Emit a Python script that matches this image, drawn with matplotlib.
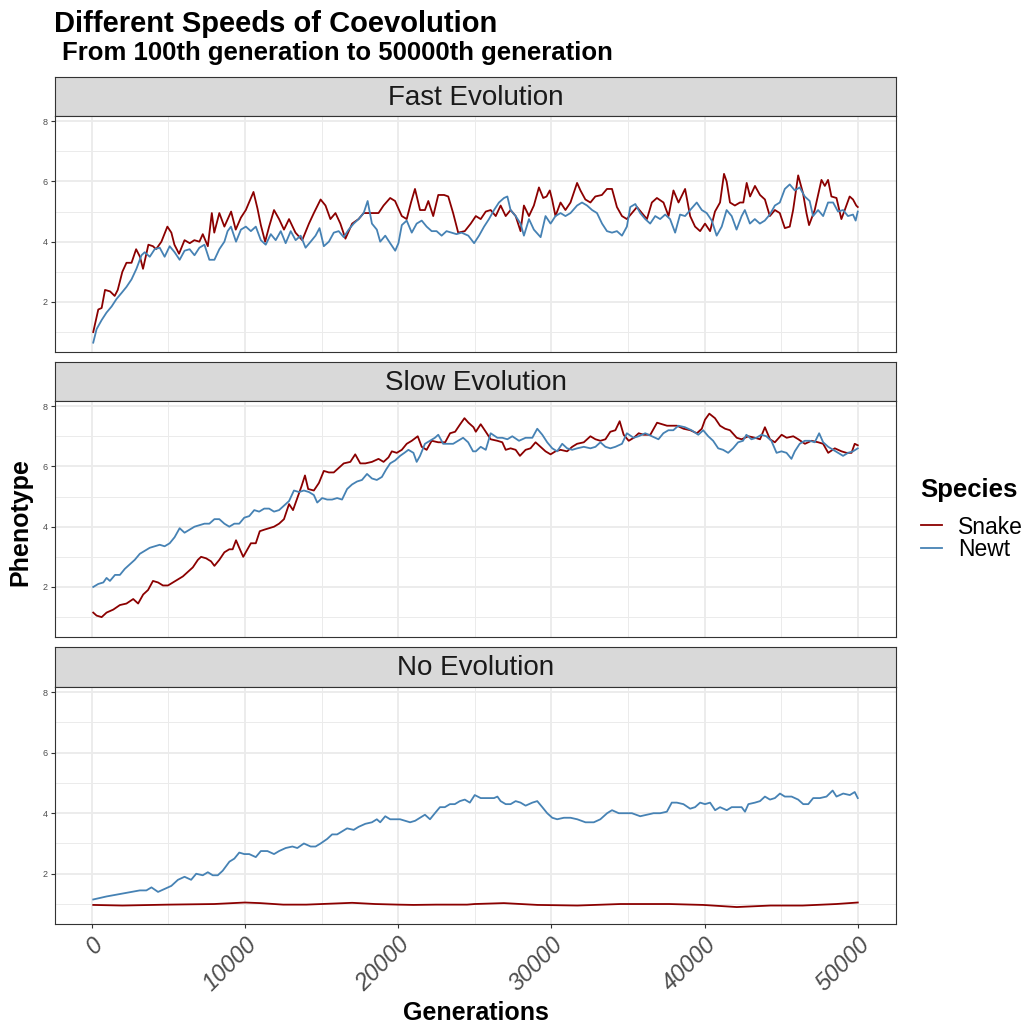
import matplotlib.pyplot as plt
from matplotlib.lines import Line2D

# phenotype traces of the two species, read every few hundred generations
fast_snake_gen = [100, 430, 650, 870, 1200, 1500, 1700, 2000, 2270, 2600, 2900, 3150, 3350, 3700, 4000, 4200,
                  4550, 4940, 5200, 5400, 5700, 6060, 6400, 6700, 7030, 7250, 7580, 7840, 8000, 8330, 8660,
                  9100, 9400, 9740, 10060, 10350, 10560, 10820, 11040, 11320, 11580, 11900, 12230, 12550,
                  12880, 13300, 13740, 14180, 14500, 14940, 15260, 15580, 15910, 16230, 16560, 17000, 17420,
                  17750, 18070, 18400, 18720, 19050, 19480, 19800, 20240, 20560, 20840, 21100, 21430, 21750,
                  21970, 22290, 22620, 23000, 23270, 23590, 23920, 24350, 24740, 25070, 25390, 25720, 26040,
                  26370, 26690, 27020, 27340, 27670, 27990, 28210, 28540, 28860, 29190, 29470, 29690, 29900,
                  30050, 30270, 30600, 30920, 31250, 31680, 31900, 32220, 32550, 32870, 33300, 33630, 33960,
                  34280, 34610, 34930, 35260, 35590, 35910, 36240, 36560, 36890, 37320, 37650, 37970, 38300,
                  38730, 39060, 39380, 39710, 40030, 40360, 40680, 41010, 41270, 41440, 41660, 41980, 42310,
                  42530, 42750, 42970, 43290, 43620, 43940, 44260, 44590, 44910, 45240, 45560, 45780, 46110,
                  46430, 46650, 46820, 47190, 47630, 47850, 48060, 48280, 48610, 48930, 49150, 49470, 49690,
                  49900, 50000]
fast_snake = [1.0, 1.75, 1.8, 2.4, 2.35, 2.2, 2.4, 3.0, 3.3, 3.3, 3.75, 3.5, 3.1, 3.9, 3.85, 3.75,
              4.0, 4.5, 4.3, 3.9, 3.6, 4.05, 3.95, 4.05, 4.0, 4.25, 3.85, 4.95, 4.3, 4.95, 4.5,
              5.0, 4.4, 4.8, 5.05, 5.4, 5.65, 5.1, 4.55, 4.0, 4.5, 5.05, 4.75, 4.4,
              4.75, 4.3, 4.05, 4.6, 4.95, 5.4, 5.2, 4.75, 4.95, 4.6, 4.1, 4.6, 4.75,
              4.95, 4.95, 4.95, 4.95, 5.2, 5.45, 5.35, 4.85, 4.75, 5.3, 5.75, 5.05, 5.05,
              5.35, 4.85, 5.55, 5.55, 5.5, 4.95, 4.3, 4.35, 4.6, 4.85, 4.75, 5.0, 5.05,
              4.85, 5.2, 4.85, 5.05, 4.85, 4.35, 5.2, 4.85, 5.2, 5.8, 5.45, 5.5, 5.7,
              5.4, 4.85, 5.3, 5.05, 5.3, 5.95, 5.7, 5.4, 5.3, 5.5, 5.55, 5.75, 5.75,
              5.15, 4.85, 4.75, 4.95, 5.15, 4.95, 4.75, 5.3, 5.45, 5.3, 4.85, 5.7, 5.3,
              5.75, 4.85, 4.5, 4.35, 4.6, 4.35, 5.0, 5.3, 6.25, 6.0, 5.3, 5.2, 5.3,
              5.3, 5.95, 5.5, 5.85, 5.55, 5.4, 4.85, 5.05, 4.95, 4.45, 4.5, 5.05, 6.2,
              5.6, 4.95, 4.55, 5.05, 6.05, 5.85, 6.05, 5.5, 5.45, 4.75, 5.05, 5.5, 5.4,
              5.2, 5.15]

fast_newt_gen = [100, 320, 650, 970, 1300, 1620, 1950, 2270, 2600, 2920, 3250, 3460, 3790, 4110, 4440, 4760,
                 5090, 5410, 5740, 6060, 6390, 6710, 7030, 7360, 7680, 8010, 8330, 8660, 8870, 9090, 9420,
                 9740, 10060, 10390, 10710, 11040, 11360, 11690, 12010, 12340, 12660, 12990, 13310, 13640,
                 13960, 14290, 14610, 14870, 15150, 15480, 15800, 16120, 16450, 16770, 17100, 17420, 17750,
                 18010, 18290, 18610, 18830, 19160, 19480, 19810, 20020, 20240, 20560, 20890, 21210, 21540,
                 21860, 22190, 22510, 22840, 23160, 23490, 23810, 24140, 24580, 24960, 25280, 25610, 25930,
                 26260, 26580, 26910, 27130, 27340, 27670, 27990, 28210, 28540, 28860, 29300, 29620, 29950,
                 30270, 30600, 30920, 31250, 31680, 32000, 32330, 32660, 32980, 33310, 33630, 33960, 34280,
                 34610, 34930, 35150, 35480, 35800, 36130, 36450, 36780, 37100, 37430, 37750, 38080, 38400,
                 38730, 39060, 39490, 39820, 40140, 40470, 40790, 41120, 41440, 41770, 42090, 42420, 42630,
                 42960, 43280, 43610, 43930, 44260, 44590, 44910, 45240, 45560, 45890, 46210, 46540, 46860,
                 47080, 47410, 47740, 48060, 48390, 48710, 49040, 49360, 49690, 49860, 50000]
fast_newt = [0.65, 1.1, 1.4, 1.65, 1.85, 2.1, 2.3, 2.5, 2.75, 3.1, 3.55, 3.65, 3.5, 3.75, 3.8, 3.5,
             3.85, 3.65, 3.4, 3.7, 3.75, 3.55, 3.8, 3.9, 3.4, 3.4, 3.75, 4.0, 4.35, 4.5, 4.0,
             4.4, 4.5, 4.35, 4.5, 4.05, 3.9, 4.25, 4.05, 4.35, 3.95, 4.35, 4.05, 4.2,
             3.8, 4.0, 4.2, 4.45, 3.85, 4.0, 4.3, 4.35, 4.15, 4.4, 4.6, 4.75, 4.95,
             5.35, 4.6, 4.4, 4.0, 4.2, 3.95, 3.7, 3.95, 4.55, 4.7, 4.3, 4.6, 4.7,
             4.5, 4.35, 4.35, 4.2, 4.35, 4.3, 4.25, 4.3, 4.2, 3.95, 4.2, 4.5, 4.75,
             5.05, 5.3, 5.45, 5.5, 5.05, 4.85, 4.6, 4.2, 4.75, 4.4, 4.15, 4.85, 4.6,
             4.85, 4.95, 4.85, 4.95, 5.2, 5.3, 5.2, 5.05, 4.95, 4.6, 4.35, 4.3, 4.35,
             4.2, 4.5, 5.15, 5.25, 4.95, 4.75, 4.6, 4.85, 4.75, 4.9, 4.75, 4.3, 4.9,
             4.85, 5.05, 5.3, 5.05, 4.95, 4.7, 4.2, 4.5, 5.05, 4.85, 4.4, 4.85, 5.05,
             4.6, 4.75, 4.6, 4.7, 4.9, 5.2, 5.3, 5.75, 5.9, 5.7, 5.8, 5.5, 5.35,
             4.85, 5.05, 4.85, 5.3, 5.3, 5.0, 5.05, 4.85, 4.9, 4.7, 5.0]

slow_snake_gen = [100, 320, 650, 970, 1410, 1840, 2270, 2710, 3030, 3360, 3680, 4000, 4330, 4650, 4980, 5300,
                  5630, 5950, 6280, 6600, 6930, 7140, 7470, 7790, 8010, 8330, 8660, 8980, 9200, 9420, 9630,
                  9890, 10170, 10390, 10710, 10970, 11260, 11580, 11900, 12230, 12550, 12880, 13140, 13420,
                  13700, 13920, 14130, 14500, 14830, 15150, 15480, 15800, 16130, 16450, 16880, 17200, 17530,
                  17860, 18290, 18720, 19050, 19370, 19590, 19910, 20240, 20560, 20890, 21280, 21540, 21860,
                  22190, 22620, 23070, 23390, 23720, 24050, 24330, 24590, 24920, 25070, 25390, 25720, 26040,
                  26480, 26800, 27020, 27340, 27670, 27950, 28320, 28640, 28970, 29300, 29620, 29950, 30270,
                  30600, 31030, 31360, 31680, 32120, 32550, 32880, 33200, 33530, 33850, 34180, 34460, 34720,
                  35050, 35380, 35700, 36030, 36460, 36900, 37220, 37550, 37870, 38200, 38630, 39070, 39500,
                  39820, 40030, 40310, 40680, 41010, 41340, 41660, 42100, 42420, 42860, 43290, 43620, 43940,
                  44270, 44590, 45030, 45360, 45790, 46120, 46550, 46980, 47420, 47740, 48070, 48500, 48940,
                  49260, 49590, 49800, 50000]
slow_snake = [1.15, 1.05, 1.0, 1.15, 1.25, 1.4, 1.45, 1.6, 1.45, 1.75, 1.9, 2.2, 2.15, 2.05, 2.05, 2.15,
              2.25, 2.35, 2.5, 2.65, 2.9, 3.0, 2.95, 2.85, 2.7, 2.9, 3.15, 3.25, 3.25, 3.55, 3.3,
              3.0, 3.25, 3.45, 3.45, 3.85, 3.9, 3.95, 4.0, 4.1, 4.25, 4.75, 4.55, 4.95,
              5.35, 5.7, 5.25, 5.2, 5.45, 5.85, 5.8, 5.8, 5.95, 6.1, 6.15, 6.4, 6.1,
              6.1, 6.15, 6.25, 6.15, 6.3, 6.5, 6.45, 6.55, 6.75, 6.85, 7.0, 6.65, 6.55,
              6.85, 6.8, 6.8, 7.1, 7.15, 7.4, 7.6, 7.45, 7.3, 7.15, 7.4, 7.15, 6.9,
              6.85, 6.8, 6.55, 6.6, 6.55, 6.35, 6.55, 6.6, 6.8, 6.65, 6.5, 6.4, 6.5,
              6.55, 6.5, 6.65, 6.75, 6.8, 7.0, 6.9, 6.85, 6.9, 7.15, 7.2, 7.5, 7.05,
              6.85, 6.95, 7.1, 7.05, 7.05, 7.45, 7.4, 7.35, 7.35, 7.35, 7.25, 7.2, 7.1,
              7.25, 7.55, 7.75, 7.6, 7.35, 7.25, 7.2, 6.95, 6.9, 7.0, 6.95, 6.9, 7.3,
              6.9, 6.8, 7.05, 6.95, 7.0, 6.9, 6.75, 6.85, 6.8, 6.75, 6.45, 6.6, 6.5,
              6.45, 6.45, 6.75, 6.7]

slow_newt_gen = [100, 430, 760, 970, 1190, 1520, 1840, 2160, 2490, 2810, 3140, 3460, 3790, 4110, 4440, 4760,
                 5090, 5410, 5740, 6060, 6390, 6710, 7030, 7360, 7680, 8010, 8330, 8660, 8980, 9310, 9630,
                 9960, 10280, 10610, 10930, 11260, 11580, 11900, 12230, 12550, 12880, 13200, 13530, 13850,
                 14180, 14500, 14720, 15040, 15370, 15690, 16020, 16340, 16670, 16990, 17320, 17640, 17970,
                 18290, 18610, 18940, 19220, 19480, 19810, 20130, 20410, 20670, 21000, 21210, 21430, 21750,
                 22080, 22400, 22620, 22940, 23270, 23590, 23920, 24240, 24570, 24890, 25070, 25390, 25720,
                 26040, 26480, 26800, 27130, 27450, 27890, 28320, 28760, 29080, 29410, 29730, 30060, 30380,
                 30710, 31030, 31360, 31690, 32120, 32550, 32880, 33200, 33530, 33850, 34180, 34610, 34930,
                 35370, 35690, 36130, 36560, 36990, 37310, 37640, 37960, 38290, 38720, 39150, 39590, 39910,
                 40240, 40560, 40890, 41210, 41540, 41860, 42190, 42510, 42730, 43060, 43380, 43710, 44030,
                 44360, 44700, 45020, 45350, 45670, 45890, 46210, 46540, 46870, 47190, 47480, 47740, 48070,
                 48390, 48720, 49040, 49370, 49690, 50000]
slow_newt = [2.0, 2.1, 2.15, 2.3, 2.2, 2.4, 2.4, 2.6, 2.75, 2.9, 3.1, 3.2, 3.3, 3.35, 3.4, 3.35,
             3.45, 3.65, 3.95, 3.8, 3.9, 4.0, 4.05, 4.1, 4.1, 4.25, 4.25, 4.1, 4.0, 4.1, 4.1,
             4.3, 4.35, 4.55, 4.5, 4.6, 4.6, 4.5, 4.55, 4.7, 4.85, 5.2, 5.15, 5.2,
             5.15, 5.05, 4.8, 4.95, 4.9, 4.9, 4.95, 4.9, 5.25, 5.4, 5.5, 5.55, 5.75,
             5.6, 5.55, 5.65, 5.9, 6.1, 6.2, 6.35, 6.45, 6.55, 6.45, 6.15, 6.35, 6.75,
             6.85, 6.95, 7.05, 6.75, 6.75, 6.75, 6.85, 6.95, 6.8, 6.5, 6.5, 6.65, 6.55,
             7.1, 6.95, 6.95, 6.9, 7.0, 6.85, 6.95, 6.95, 7.25, 7.05, 6.8, 6.6, 6.5,
             6.75, 6.6, 6.55, 6.6, 6.65, 6.6, 6.65, 6.8, 6.65, 6.6, 6.65, 6.75, 7.1,
             6.95, 7.0, 7.1, 7.0, 6.9, 7.1, 7.2, 7.2, 7.35, 7.3, 7.2, 7.05, 7.2,
             7.0, 6.85, 6.6, 6.55, 6.45, 6.6, 6.8, 6.85, 7.05, 6.9, 6.95, 7.05, 7.0,
             6.85, 6.45, 6.5, 6.45, 6.25, 6.5, 6.75, 6.85, 6.85, 6.8, 7.1, 6.8, 6.65,
             6.55, 6.45, 6.35, 6.45, 6.5, 6.6]

none_snake_gen = [100, 2000, 5000, 8000, 10000, 11000, 12500, 14000, 16000, 17000, 18500, 20000, 21000,
                  22500, 24500, 25000, 26900, 29100, 31700, 34500, 37700, 39900, 42100, 44300, 46400,
                  48600, 50000]
none_snake = [0.97, 0.95, 0.98, 1.0, 1.05, 1.03, 0.98, 0.98, 1.02, 1.04, 1.0, 0.98, 0.97,
              0.98, 0.98, 1.0, 1.03, 0.97, 0.95, 1.0, 1.0, 0.97, 0.9, 0.95, 0.95,
              1.0, 1.05]

none_newt_gen = [100, 540, 970, 1520, 2060, 2600, 3140, 3570, 3900, 4330, 4760, 5200, 5630, 6060, 6280, 6490,
                 6820, 7250, 7580, 7900, 8230, 8550, 8770, 8990, 9310, 9630, 9960, 10280, 10710, 11040,
                 11470, 11900, 12230, 12660, 13100, 13420, 13850, 14290, 14610, 14940, 15370, 15690, 16020,
                 16340, 16670, 17100, 17420, 17860, 18290, 18610, 18830, 19160, 19480, 19810, 20130, 20460,
                 20780, 21110, 21430, 21750, 22080, 22400, 22730, 23050, 23380, 23700, 24030, 24350, 24680,
                 25000, 25390, 25820, 26260, 26480, 26690, 27020, 27340, 27670, 27990, 28320, 28760, 29080,
                 29410, 29730, 30060, 30380, 30820, 31250, 31690, 32230, 32770, 33200, 33640, 33960, 34400,
                 34830, 35260, 35800, 36240, 36670, 37100, 37540, 37860, 38190, 38620, 39060, 39380, 39710,
                 40030, 40360, 40690, 41010, 41450, 41770, 42100, 42420, 42640, 42860, 43290, 43620, 43940,
                 44270, 44590, 44920, 45240, 45680, 46110, 46440, 46770, 47090, 47530, 47960, 48360, 48610,
                 49050, 49480, 49800, 50000]
none_newt = [1.15, 1.2, 1.25, 1.3, 1.35, 1.4, 1.45, 1.45, 1.55, 1.4, 1.5, 1.6, 1.8, 1.9, 1.85, 1.8,
             2.0, 1.95, 2.05, 1.95, 1.95, 2.1, 2.25, 2.4, 2.5, 2.7, 2.65, 2.65, 2.55, 2.75,
             2.75, 2.65, 2.75, 2.85, 2.9, 2.85, 3.0, 2.9, 2.9, 3.0, 3.15, 3.3, 3.3,
             3.4, 3.5, 3.45, 3.55, 3.65, 3.7, 3.8, 3.7, 3.9, 3.8, 3.8, 3.8, 3.75,
             3.7, 3.75, 3.85, 3.95, 3.8, 4.0, 4.2, 4.2, 4.3, 4.3, 4.4, 4.45, 4.35,
             4.6, 4.5, 4.5, 4.5, 4.55, 4.4, 4.3, 4.3, 4.4, 4.35, 4.25, 4.35, 4.4,
             4.2, 4.0, 3.85, 3.8, 3.85, 3.85, 3.8, 3.7, 3.7, 3.8, 4.0, 4.1, 4.0,
             4.0, 4.0, 3.9, 3.95, 4.0, 4.0, 4.05, 4.35, 4.35, 4.3, 4.15, 4.2, 4.35,
             4.3, 4.35, 4.1, 4.2, 4.1, 4.2, 4.2, 4.2, 4.05, 4.3, 4.35, 4.4, 4.55,
             4.45, 4.5, 4.65, 4.55, 4.55, 4.45, 4.3, 4.3, 4.5, 4.5, 4.55, 4.75, 4.55,
             4.65, 4.6, 4.7, 4.5]

facets = ["Fast Evolution", "Slow Evolution", "No Evolution"]
snake_data = [(fast_snake_gen, fast_snake), (slow_snake_gen, slow_snake), (none_snake_gen, none_snake)]
newt_data = [(fast_newt_gen, fast_newt), (slow_newt_gen, slow_newt), (none_newt_gen, none_newt)]
species = ["Snake", "Newt"]
colors = ["#8B0000", "#4682B4"]
x_ticks = [0, 10000, 20000, 30000, 40000, 50000]
y_ticks = [2, 4, 6, 8]

plt.rcParams['font.family'] = ['Liberation Sans', 'DejaVu Sans']

W, H = 1026, 1028
fig = plt.figure(figsize=(W / 100, H / 100), dpi=100)


def box(l, t, r, b):
    # pixel box -> figure fraction
    return [l / W, 1 - b / H, (r - l) / W, (b - t) / H]


rows = [(77, 116, 352), (362, 401, 637), (647, 687, 924)]
left, right = 55, 896
border = '#333333'

for i, name in enumerate(facets):
    strip_top, top, bottom = rows[i]

    # facet strip
    sax = fig.add_axes(box(left, strip_top, right, top))
    sax.set_facecolor('#D9D9D9')
    sax.set_xticks([])
    sax.set_yticks([])
    for sp in sax.spines.values():
        sp.set_color(border)
        sp.set_linewidth(0.8)
    sax.text(0.5, 0.47, name, ha='center', va='center', fontsize=20, color='#1A1A1A',
             transform=sax.transAxes)

    ax = fig.add_axes(box(left, top, right, bottom))
    ax.set_xlim(-2395, 52495)
    ax.set_ylim(0.34, 8.17)
    ax.set_xticks(x_ticks)
    ax.set_xticks([5000, 15000, 25000, 35000, 45000], minor=True)
    ax.set_yticks(y_ticks)
    ax.set_yticks([1, 3, 5, 7], minor=True)
    ax.grid(which='major', color='#EBEBEB', linewidth=1.3)
    ax.grid(which='minor', color='#EBEBEB', linewidth=0.7)
    ax.set_axisbelow(True)
    for sp in ax.spines.values():
        sp.set_color(border)
        sp.set_linewidth(0.8)
    ax.tick_params(which='minor', length=0)
    ax.tick_params(axis='y', labelsize=6.5, labelcolor='#4D4D4D', color=border, length=3, pad=2)

    sg, sv = snake_data[i]
    ng, nv = newt_data[i]
    ax.plot(sg, sv, color=colors[0], linewidth=1.3)
    ax.plot(ng, nv, color=colors[1], linewidth=1.3)

    if i < 2:
        ax.tick_params(axis='x', length=0, labelbottom=False)
    else:
        ax.tick_params(axis='x', color=border, length=3)
        ax.set_xticklabels([str(t) for t in x_ticks], rotation=45, ha='right', va='top',
                           rotation_mode='anchor', fontsize=17, style='italic', color='#4D4D4D')
        ax.set_xlabel("Generations", fontsize=18, fontweight='bold', labelpad=4)

fig.text(20 / W, 1 - 522 / H, "Phenotype", rotation=90, ha='center', va='center',
         fontsize=18, fontweight='bold')

fig.text(54 / W, 1 - 10 / H, "Different Speeds of Coevolution", ha='left', va='top',
         fontsize=21, fontweight='bold')
fig.text(62 / W, 1 - 41 / H, "From 100th generation to 50000th generation", ha='left', va='top',
         fontsize=18.5, fontweight='bold')

# legend: title drawn as text, entries via fig.legend
fig.text(920 / W, 1 - 490 / H, "Species", ha='left', va='center', fontsize=18.5, fontweight='bold')
handles = [Line2D([], [], color=c, linewidth=1.3) for c in colors]
fig.legend(handles, species, loc='center left', bbox_to_anchor=(921 / W, 1 - 538.5 / H),
           frameon=False, fontsize=16.5, borderpad=0, borderaxespad=0,
           handlelength=0.92, handletextpad=0.7, labelspacing=0.0)

fig.savefig("out.png", dpi=100)
